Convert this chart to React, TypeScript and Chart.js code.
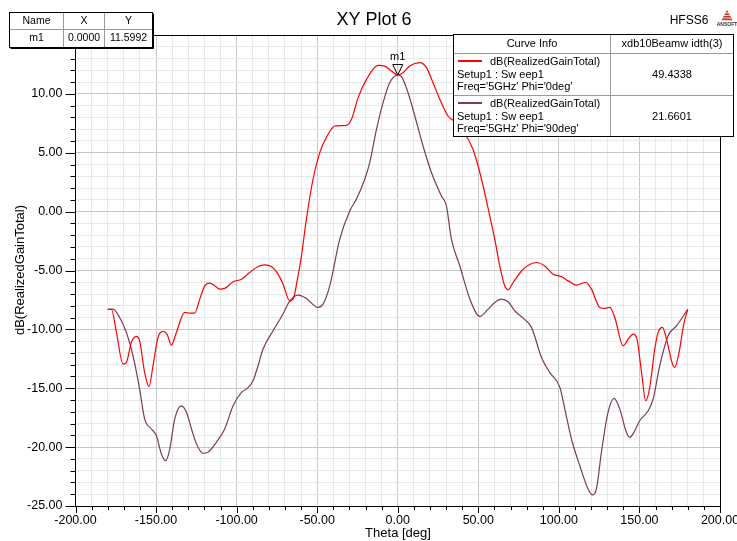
import React, { useEffect, useRef } from "react";
import { Chart, registerables } from "chart.js";

Chart.register(...registerables);

const FONT = '"Liberation Sans", Arial, sans-serif';

// Phi = 0deg (red)
const thetaPhi0 = [
  -180, -177.7, -174.6, -170.5, -168.4, -165.3, -162.2, -160.2, -157.1, -154.4,
  -151.9, -148.8, -145.7, -143.2, -140.5, -137.4, -132.2, -129.1, -126, -122.9,
  -119.8, -116.7, -113.6, -110.5, -107.4, -102.2, -97, -91.9, -86.7, -82.6,
  -78.4, -74.3, -71.2, -67, -64.6, -61.9, -59.8, -56.7, -52.6, -48.4,
  -44.3, -39.1, -31.8, -28.7, -24.6, -19.4, -12.2, -8.1, -3.9, 0,
  3.3, 7.4, 13.7, 17.8, 21.9, 26.1, 31.2, 34.3, 37, 40.3,
  46.7, 52, 57.1, 60.2, 63.3, 66.4, 68.5, 71.6, 77.8, 86.1,
  91.2, 96.4, 101.6, 105.7, 110.9, 116.7, 120.2, 125.4, 128.5, 131.6,
  134.7, 139.9, 143, 146.1, 148.5, 151.3, 153.9, 156.4, 159.5, 161.6,
  164.3, 166.8, 170.5, 171.9, 174.6, 177.5, 180,
];
const gainPhi0 = [
  -8.3, -8.3, -10.26, -12.95, -12.8, -11.1, -10.6, -10.97, -13.65, -14.87,
  -13.09, -10.68, -10.17, -10.4, -11.34, -10.26, -8.56, -8.62, -8.62, -7.43,
  -6.3, -6.07, -6.3, -6.58, -6.52, -5.96, -5.74, -5.17, -4.66, -4.52,
  -4.66, -5.31, -6.16, -7.58, -7.29, -5.46, -3.8, -0.64, 2.75, 5.01,
  6.29, 7.27, 7.33, 7.84, 9.68, 11.23, 12.42, 12.36, 11.94, 11.6,
  11.8, 12.36, 12.65, 12.23, 10.95, 9.54, 8.12, 7.76, 7.4, 6.9,
  5.29, 2.75, -0.36, -2.34, -4.61, -6.3, -6.64, -6.02, -4.89, -4.32,
  -4.61, -5.31, -5.51, -5.88, -6.24, -6.02, -6.58, -8.14, -8.22, -8.14,
  -8.99, -11.39, -10.83, -10.4, -10.83, -13.65, -16.06, -14.92, -11.67, -10.26,
  -9.83, -10.83, -12.95, -13.23, -11.95, -9.55, -8.3,
];

// Phi = 90deg (purple)
const thetaPhi90 = [
  -180, -176.7, -172.6, -168.4, -164.3, -160.2, -157.1, -152.9, -149.8, -146.7,
  -144, -141.5, -138.4, -134.3, -131.1, -128, -124.9, -120.9, -117.8, -112.6,
  -107.4, -102.2, -97, -93.9, -89.8, -86.7, -83.6, -77.4, -71.2, -67,
  -61.9, -56.7, -49.5, -46.4, -42.2, -36, -29.8, -25.7, -20.5, -17.4,
  -13.2, -9.1, -5, 0, 2.3, 6.4, 10.6, 15.7, 20.9, 27.1,
  30.2, 33.3, 38.5, 44.7, 50.9, 56.1, 60.2, 64.4, 68.5, 72.6,
  77.8, 83, 89.2, 94.3, 100.6, 103.7, 107.8, 113, 118.1, 120.9,
  123.3, 126.4, 130.5, 134.3, 137.8, 141.9, 144, 147.1, 150.2, 155.4,
  158.5, 162.6, 167.8, 173, 180,
];
const gainPhi90 = [
  -8.3, -8.28, -8.99, -10.26, -12.24, -15.07, -17.6, -18.46, -19.03, -20.58,
  -21.15, -20.16, -17.6, -16.49, -17.05, -18.46, -19.74, -20.52, -20.44, -19.59,
  -18.46, -16.49, -15.35, -15.07, -14.36, -13.09, -11.67, -10.12, -8.7, -7.58,
  -7.09, -7.37, -8.14, -7.86, -6.3, -2.34, 0.06, 1.05, 2.75, 4.17,
  6.99, 9.26, 10.95, 11.6, 11.46, 10.1, 8.12, 5.57, 3.32, 1.33,
  0.48, -2.34, -4.6, -7.4, -8.9, -8.28, -7.71, -7.43, -7.66, -8.42,
  -9.05, -9.83, -12.38, -13.65, -14.92, -16.77, -19.31, -21.58, -23.55, -24.06,
  -23.55, -20.44, -17.05, -15.86, -16.77, -18.74, -19.17, -18.61, -17.76, -16.91,
  -15.92, -13.09, -10.55, -9.7, -8.3,
];

const seriesNames = ["dB(RealizedGainTotal)", "dB(RealizedGainTotal)"];
const seriesSetup = ["Setup1 : Sw eep1", "Setup1 : Sw eep1"];
const seriesFreq = ["Freq='5GHz' Phi='0deg'", "Freq='5GHz' Phi='90deg'"];
const seriesBeamwidth = ["49.4338", "21.6601"];
const seriesColors = ["#ff0000", "#7a3b5e"];

const markerName = "m1";
const markerX = 0;
const markerY = 11.5992;

const xMin = -200, xMax = 200, xMinorStep = 10, xMajorStep = 50;
const yMin = -25, yMax = 15, yMinorStep = 1, yMajorStep = 5;

function range(a: number, b: number, s: number) {
  const out: number[] = [];
  for (let v = a; v <= b + 1e-9; v += s) out.push(Math.round(v * 1000) / 1000);
  return out;
}

export default function App() {
  const ref = useRef<HTMLCanvasElement>(null);

  useEffect(() => {
    const canvas = ref.current!;

    const overlay = {
      id: "overlay",
      afterDraw(chart: any) {
        const ctx = chart.ctx as CanvasRenderingContext2D;
        const ca = chart.chartArea;
        const xs = chart.scales.x;
        const ys = chart.scales.y;
        ctx.save();

        // border top & right
        ctx.strokeStyle = "#000";
        ctx.lineWidth = 1;
        ctx.beginPath();
        ctx.moveTo(ca.left, Math.round(ca.top) + 0.5);
        ctx.lineTo(ca.right, Math.round(ca.top) + 0.5);
        ctx.moveTo(Math.round(ca.right) + 0.5, ca.top);
        ctx.lineTo(Math.round(ca.right) + 0.5, ca.bottom);
        ctx.stroke();

        // ticks
        ctx.beginPath();
        for (const v of range(yMin, yMax, yMinorStep)) {
          const y = Math.round(ys.getPixelForValue(v)) + 0.5;
          const len = v % yMajorStep === 0 ? 10 : 5;
          ctx.moveTo(ca.left - len, y);
          ctx.lineTo(ca.left, y);
        }
        for (const v of range(xMin, xMax, xMinorStep)) {
          const x = Math.round(xs.getPixelForValue(v)) + 0.5;
          const len = v % xMajorStep === 0 ? 7 : 4;
          ctx.moveTo(x, ca.bottom);
          ctx.lineTo(x, ca.bottom + len);
        }
        ctx.stroke();

        // titles
        ctx.fillStyle = "#000";
        ctx.textAlign = "center";
        ctx.textBaseline = "middle";
        ctx.font = `18px ${FONT}`;
        ctx.fillText("XY Plot 6", 374, 20);
        ctx.font = `12px ${FONT}`;
        ctx.fillText("HFSS6", 689, 21);

        // ANSOFT logo
        ctx.fillStyle = "#c0392b";
        ctx.beginPath();
        ctx.moveTo(727, 10);
        ctx.lineTo(721, 21);
        ctx.lineTo(733, 21);
        ctx.closePath();
        ctx.fill();
        ctx.strokeStyle = "#ffffff";
        ctx.lineWidth = 0.8;
        ctx.beginPath();
        for (let i = 0; i < 4; i++) {
          ctx.moveTo(720, 13 + i * 2.5);
          ctx.lineTo(734, 13 + i * 2.5);
        }
        ctx.stroke();
        ctx.fillStyle = "#333";
        ctx.font = `bold 5px ${FONT}`;
        ctx.fillText("ANSOFT", 727, 25);

        // axis titles
        ctx.fillStyle = "#000";
        ctx.font = `13px ${FONT}`;
        ctx.fillText("Theta [deg]", 398, 533);
        ctx.save();
        ctx.translate(20, 270);
        ctx.rotate(-Math.PI / 2);
        ctx.fillText("dB(RealizedGainTotal)", 0, 0);
        ctx.restore();

        // marker
        const mx = xs.getPixelForValue(markerX);
        const my = ys.getPixelForValue(markerY);
        ctx.strokeStyle = "#000";
        ctx.lineWidth = 1;
        ctx.beginPath();
        ctx.moveTo(mx - 5, my - 10.5);
        ctx.lineTo(mx + 5, my - 10.5);
        ctx.lineTo(mx, my);
        ctx.closePath();
        ctx.stroke();
        ctx.font = `11px ${FONT}`;
        ctx.fillText(markerName, mx, my - 18);

        // marker table
        const tL = 9.5, tT = 12.5, tR = 152.5, tB = 47.5, tMid = 29.5;
        const tc1 = 63.5, tc2 = 104.5;
        ctx.fillStyle = "#fff";
        ctx.fillRect(tL, tT, tR - tL, tB - tT);
        ctx.strokeStyle = "#9a9a9a";
        ctx.beginPath();
        ctx.moveTo(tL, tMid); ctx.lineTo(tR, tMid);
        ctx.moveTo(tc1, tT); ctx.lineTo(tc1, tB);
        ctx.moveTo(tc2, tT); ctx.lineTo(tc2, tB);
        ctx.stroke();
        ctx.strokeStyle = "#000";
        ctx.strokeRect(tL, tT, tR - tL, tB - tT);
        ctx.beginPath();
        ctx.moveTo(tL + 1, tB + 1); ctx.lineTo(tR + 1, tB + 1); ctx.lineTo(tR + 1, tT + 1);
        ctx.stroke();
        ctx.fillStyle = "#000";
        ctx.font = `10.5px ${FONT}`;
        ctx.fillText("Name", (tL + tc1) / 2, 21);
        ctx.fillText("X", (tc1 + tc2) / 2, 21);
        ctx.fillText("Y", (tc2 + tR) / 2, 21);
        ctx.fillText(markerName, (tL + tc1) / 2, 38.5);
        ctx.fillText(markerX.toFixed(4), (tc1 + tc2) / 2, 38.5);
        ctx.fillText(markerY.toFixed(4), (tc2 + tR) / 2, 38.5);

        // legend box
        const lL = 453.5, lT = 34.5, lR = 733.5, lB = 136.5;
        const lc = 610.5, lh = 53.5, lr = 95.5;
        ctx.fillStyle = "#fff";
        ctx.fillRect(lL, lT, lR - lL, lB - lT);
        ctx.strokeStyle = "#9a9a9a";
        ctx.beginPath();
        ctx.moveTo(lL, lh); ctx.lineTo(lR, lh);
        ctx.moveTo(lL, lr); ctx.lineTo(lR, lr);
        ctx.moveTo(lc, lT); ctx.lineTo(lc, lB);
        ctx.stroke();
        ctx.strokeStyle = "#000";
        ctx.strokeRect(lL, lT, lR - lL, lB - lT);
        ctx.fillStyle = "#000";
        ctx.font = `11px ${FONT}`;
        ctx.textAlign = "center";
        ctx.fillText("Curve Info", (lL + lc) / 2, 44);
        ctx.fillText("xdb10Beamw idth(3)", (lc + lR) / 2, 44);
        const rowTop = [lh, lr];
        for (let i = 0; i < 2; i++) {
          const y0 = rowTop[i];
          ctx.strokeStyle = seriesColors[i];
          ctx.lineWidth = 2;
          ctx.beginPath();
          ctx.moveTo(458, y0 + 7.5);
          ctx.lineTo(482, y0 + 7.5);
          ctx.stroke();
          ctx.fillStyle = "#000";
          ctx.textAlign = "left";
          ctx.fillText(seriesNames[i], 490, y0 + 8);
          ctx.fillText(seriesSetup[i], 457, y0 + 21);
          ctx.fillText(seriesFreq[i], 457, y0 + 33.5);
          ctx.textAlign = "center";
          ctx.fillText(seriesBeamwidth[i], (lc + lR) / 2, y0 + 21);
        }
        ctx.restore();
      },
    };

    const gridColor = (c: any) => {
      const v = c.tick ? c.tick.value : 0;
      return Math.abs(v % 50) < 1e-6 ? "#c8c8c8" : "#e8e8e8";
    };
    const gridColorY = (c: any) => {
      const v = c.tick ? c.tick.value : 0;
      return Math.abs(v % 5) < 1e-6 ? "#c8c8c8" : "#e8e8e8";
    };

    const chart = new Chart(canvas, {
      type: "line",
      data: {
        datasets: [
          {
            label: "Phi 0deg",
            data: thetaPhi0.map((t, i) => ({ x: t, y: gainPhi0[i] })),
            borderColor: seriesColors[0],
            borderWidth: 1.2,
            pointRadius: 0,
            cubicInterpolationMode: "monotone",
            fill: false,
          },
          {
            label: "Phi 90deg",
            data: thetaPhi90.map((t, i) => ({ x: t, y: gainPhi90[i] })),
            borderColor: seriesColors[1],
            borderWidth: 1.2,
            pointRadius: 0,
            cubicInterpolationMode: "monotone",
            fill: false,
          },
        ],
      },
      options: {
        animation: false,
        responsive: false,
        maintainAspectRatio: false,
        layout: { padding: { left: 0, top: 35, right: 17, bottom: 0 } },
        plugins: {
          legend: { display: false },
          tooltip: { enabled: false },
          title: { display: false },
        },
        scales: {
          x: {
            type: "linear",
            min: xMin,
            max: xMax,
            afterBuildTicks: (s: any) => {
              s.ticks = range(xMin, xMax, xMinorStep).map((v) => ({ value: v }));
            },
            afterFit: (s: any) => {
              s.height = 35;
              s.paddingLeft = 0;
              s.paddingRight = 0;
            },
            ticks: {
              autoSkip: false,
              maxRotation: 0,
              minRotation: 0,
              padding: 7,
              color: "#000",
              font: { family: FONT, size: 12.5 },
              callback: (v: any) => (Math.abs(Number(v) % xMajorStep) < 1e-6 ? Number(v).toFixed(2) : ""),
            },
            grid: { color: gridColor, drawTicks: false, lineWidth: 1 },
            border: { color: "#000", width: 1 },
          },
          y: {
            type: "linear",
            min: yMin,
            max: yMax,
            afterBuildTicks: (s: any) => {
              s.ticks = range(yMin, yMax, yMinorStep).map((v) => ({ value: v }));
            },
            afterFit: (s: any) => {
              s.width = 75.5;
              s.paddingTop = 0;
              s.paddingBottom = 0;
            },
            ticks: {
              autoSkip: false,
              padding: 13,
              color: "#000",
              font: { family: FONT, size: 12.5 },
              callback: (v: any) => {
                const n = Number(v);
                return Math.abs(n % yMajorStep) < 1e-6 && n < yMax ? n.toFixed(2) : "";
              },
            },
            grid: { color: gridColorY, drawTicks: false, lineWidth: 1 },
            border: { color: "#000", width: 1 },
          },
        },
      },
      plugins: [overlay],
    } as any);

    return () => chart.destroy();
  }, []);

  return (
    <div style={{ position: "absolute", left: 0, top: 0, width: 737, height: 541, background: "#fff" }}>
      <canvas ref={ref} width={737} height={541} style={{ display: "block", width: 737, height: 541 }} />
    </div>
  );
}
